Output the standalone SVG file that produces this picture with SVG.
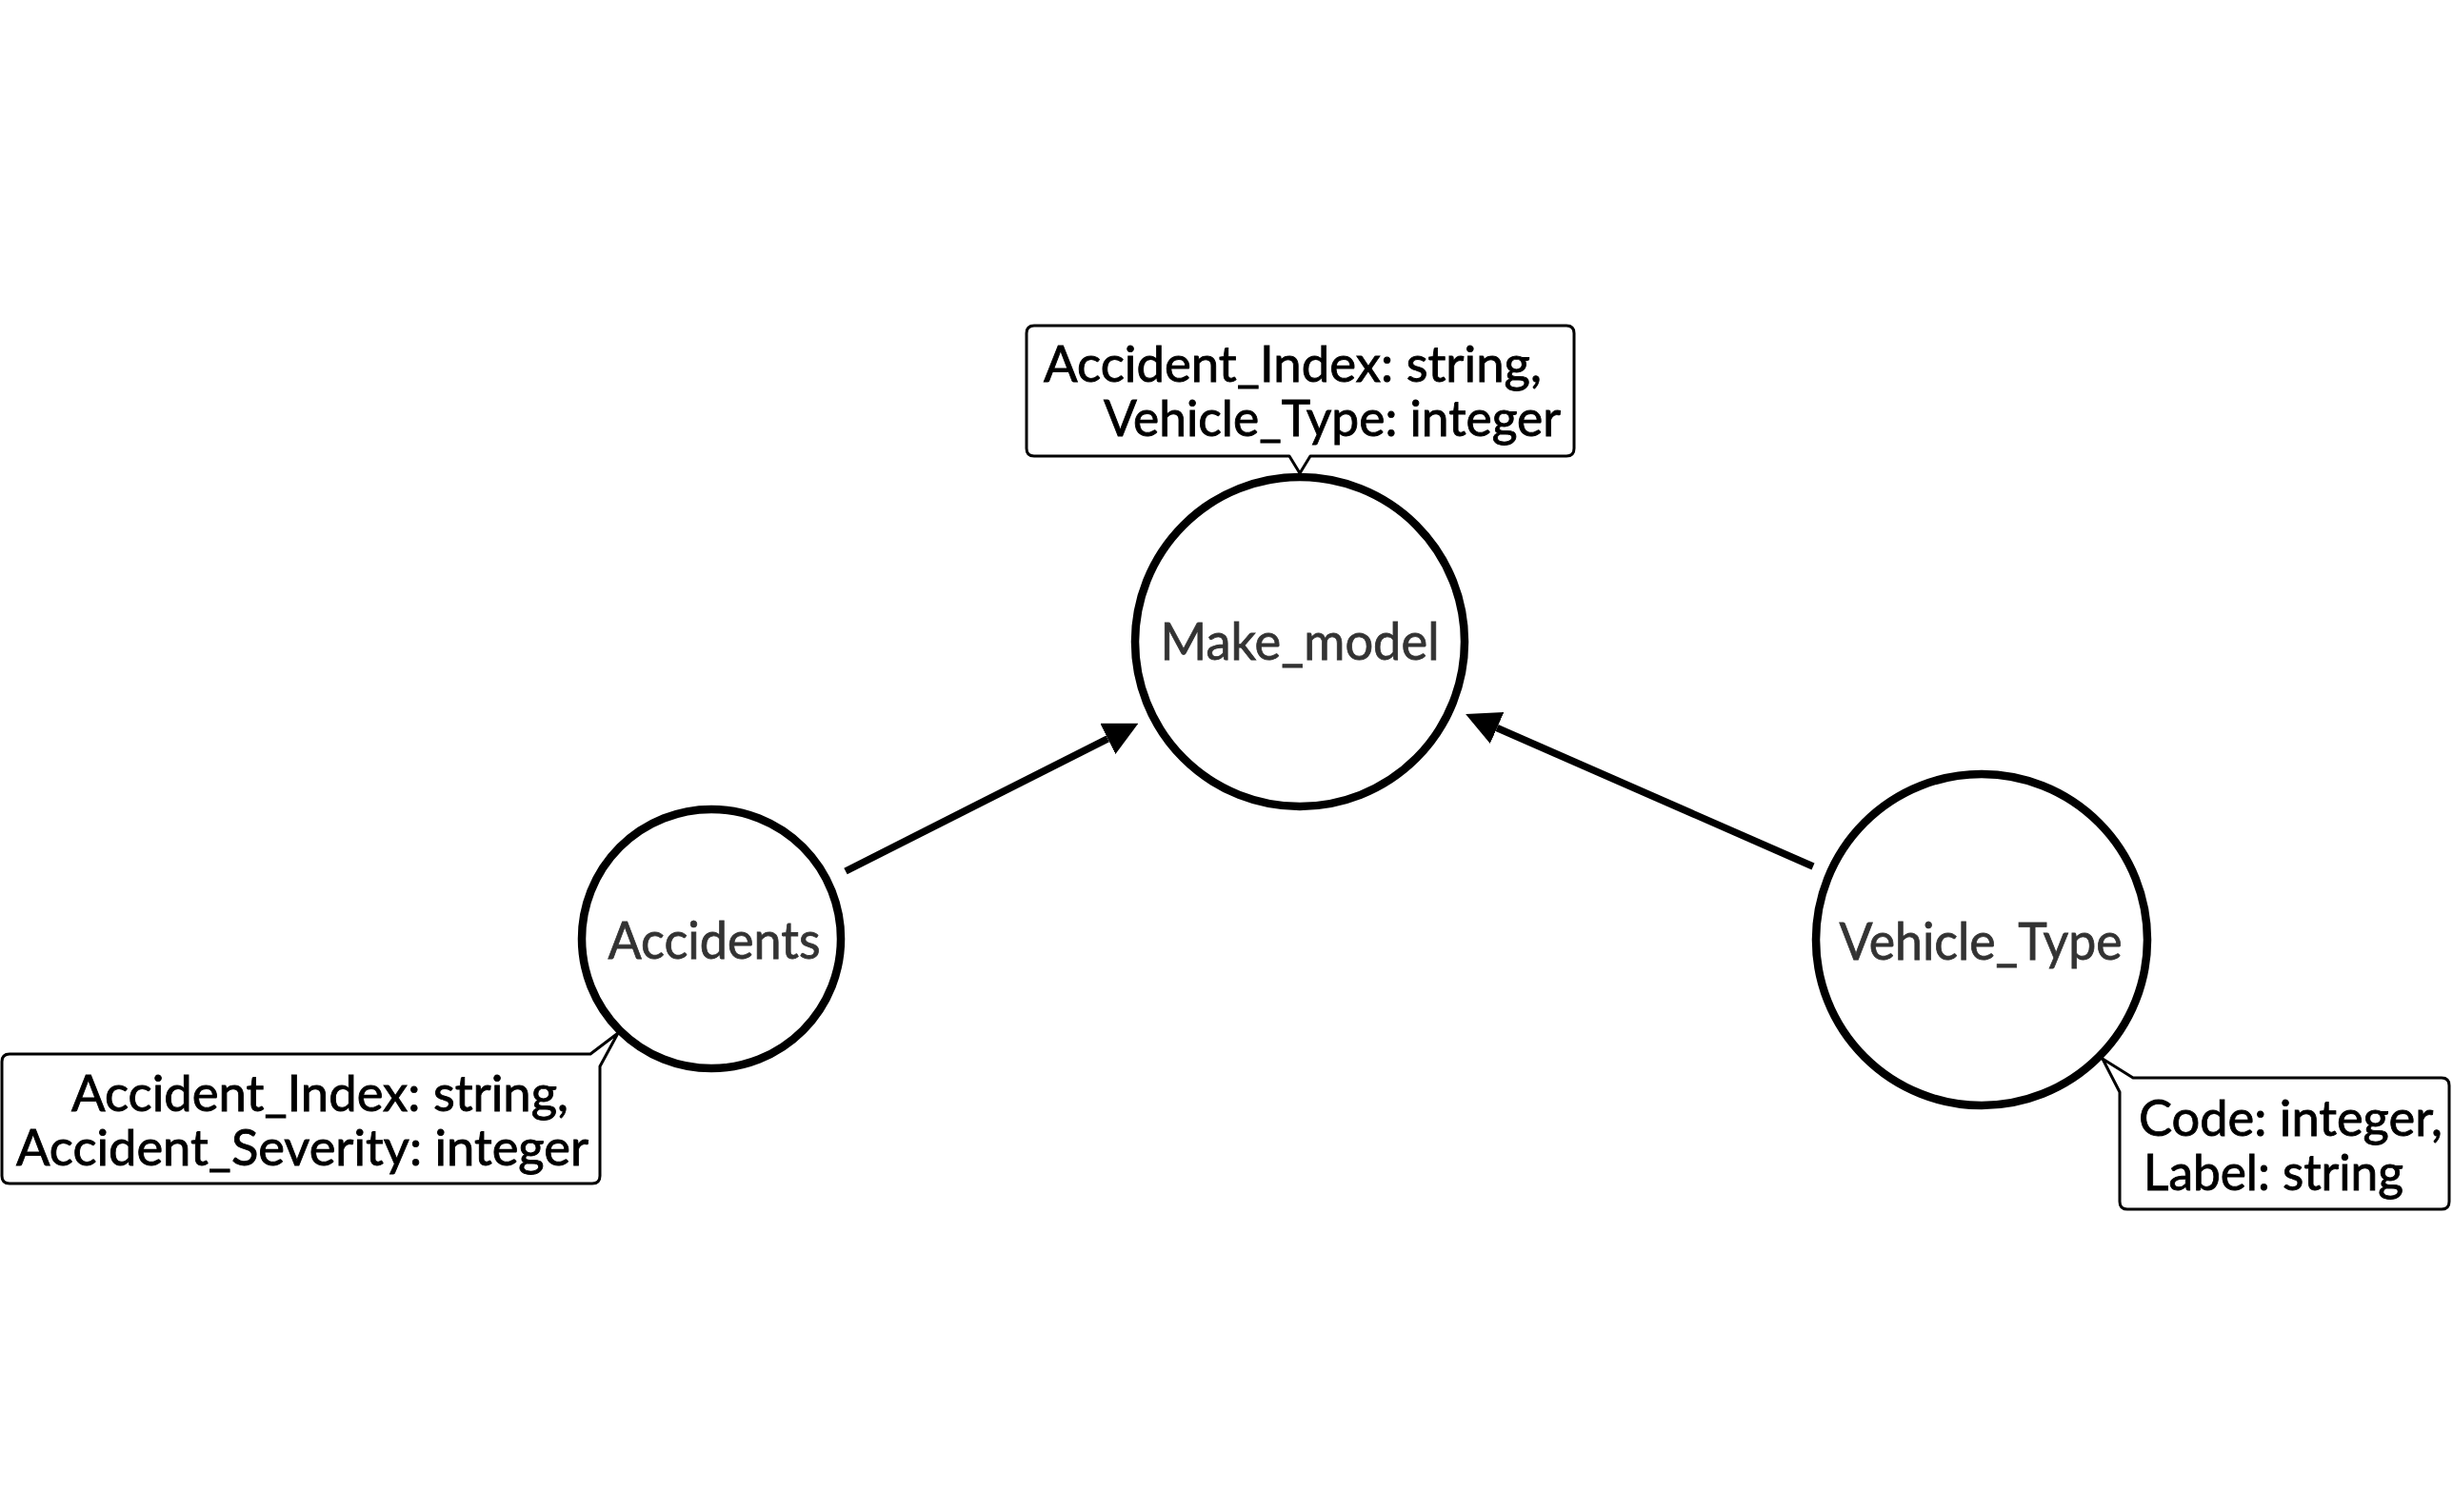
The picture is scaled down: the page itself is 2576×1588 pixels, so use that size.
<svg xmlns="http://www.w3.org/2000/svg" width="2576" height="1588" viewBox="0 0 2576 1588">
<style>
.node{fill:#fff;stroke:#000;stroke-width:8.5}
.name{font-family:Lato,"Open Sans","Liberation Sans",sans-serif;font-size:54px;fill:#333;stroke:#333;stroke-width:0.8;text-anchor:middle}
.box{fill:#fff;stroke:#000;stroke-width:3;stroke-linejoin:round}
.attr{font-family:Lato,"Open Sans","Liberation Sans",sans-serif;font-size:53px;fill:#000;stroke:#000;stroke-width:0.9}
.edge{stroke:#000;stroke-width:7.5;fill:none}
</style>
<defs>
<marker id="arrow" viewBox="0 0 36 36" markerWidth="36" markerHeight="36" refX="0" refY="18" orient="auto" markerUnits="userSpaceOnUse">
<path d="M0,0 L36,18 L0,36 Z" fill="#000"/>
</marker>
</defs>
<rect width="2576" height="1588" fill="#fff"/>
<g id="connectors">
<line class="edge" x1="888" y1="915" x2="1163.3" y2="775.9" marker-end="url(#arrow)"/>
<line class="edge" x1="1904" y1="910" x2="1572.1" y2="764.5" marker-end="url(#arrow)"/>
</g>
<g id="node-make-model">
<circle class="node" cx="1365" cy="674" r="173"/>
<text class="name" x="1365" y="693" textLength="293" lengthAdjust="spacingAndGlyphs">Make_model</text>
<path class="box" d="M1086,342 H1645 Q1653,342 1653,350 V471 Q1653,479 1645,479 H1376 L1365,497 L1354,479 H1086 Q1078,479 1078,471 V350 Q1078,342 1086,342 Z"/>
<text class="attr" x="1096" y="401" textLength="523" lengthAdjust="spacingAndGlyphs">Accident_Index: string,</text>
<text class="attr" x="1159" y="458" textLength="480" lengthAdjust="spacingAndGlyphs">Vehicle_Type: integer</text>
</g>
<g id="node-accidents">
<circle class="node" cx="747" cy="986" r="136"/>
<text class="name" x="750" y="1007" textLength="223" lengthAdjust="spacingAndGlyphs">Accidents</text>
<path class="box" d="M10,1107 H620 L649,1085 L630,1120 V1235 Q630,1243 622,1243 H10 Q2,1243 2,1235 V1115 Q2,1107 10,1107 Z"/>
<text class="attr" x="75" y="1167" textLength="522" lengthAdjust="spacingAndGlyphs">Accident_Index: string,</text>
<text class="attr" x="17" y="1224" textLength="601" lengthAdjust="spacingAndGlyphs">Accident_Severity: integer</text>
</g>
<g id="node-vehicle-type">
<circle class="node" cx="2081" cy="987" r="174"/>
<text class="name" x="2080" y="1008" textLength="297" lengthAdjust="spacingAndGlyphs">Vehicle_Type</text>
<path class="box" d="M2240,1132 H2564 Q2572,1132 2572,1140 V1262 Q2572,1270 2564,1270 H2234 Q2226,1270 2226,1262 V1147 L2208,1112 Z"/>
<text class="attr" x="2246" y="1193" textLength="319" lengthAdjust="spacingAndGlyphs">Code: integer,</text>
<text class="attr" x="2251" y="1250" textLength="273" lengthAdjust="spacingAndGlyphs">Label: string</text>
</g>
</svg>
